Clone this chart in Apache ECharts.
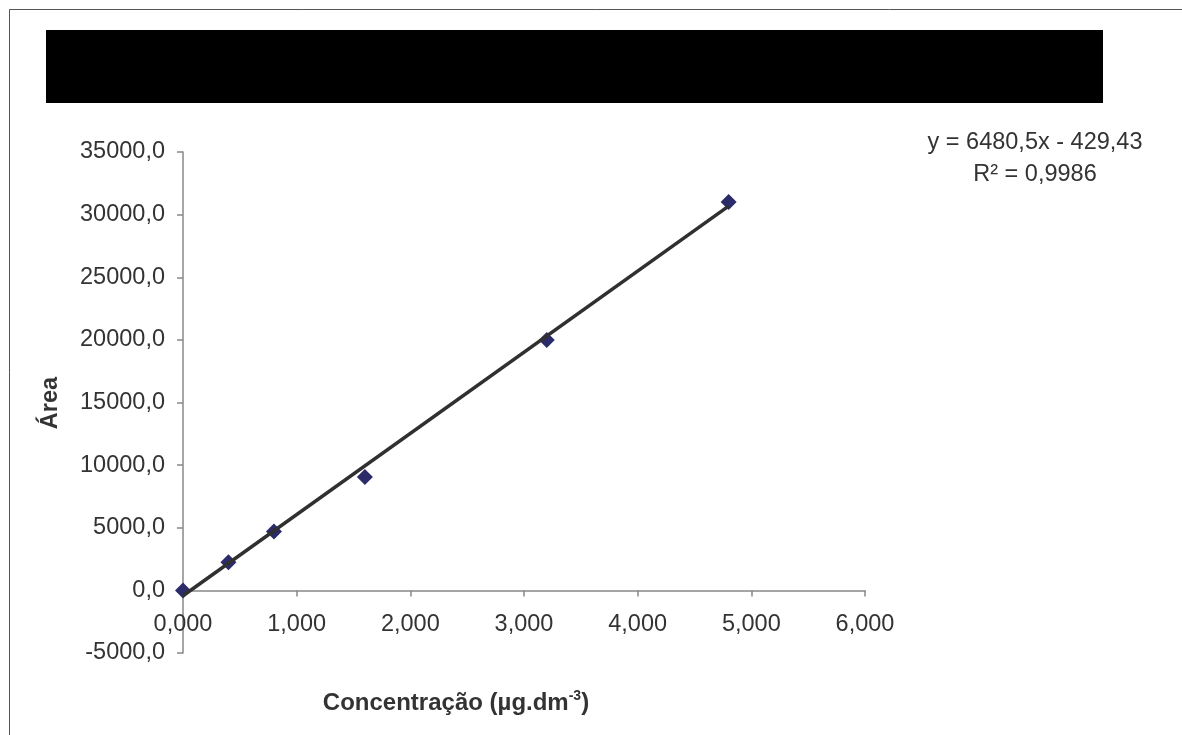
<!DOCTYPE html>
<html>
<head>
<meta charset="utf-8">
<script src="https://cdn.jsdelivr.net/npm/echarts@6/dist/echarts.min.js"></script>
<style>
html,body{margin:0;padding:0;background:#fff;}
#chart{width:1182px;height:735px;}
</style>
</head>
<body>
<div id="chart"></div>
<script>
// Data
var concentrations = [0, 0.4, 0.8, 1.6, 3.2, 4.8];
var areas = [0, 2250, 4700, 9050, 20000, 31000];
var trendSlope = 6480.5;
var trendIntercept = -429.43;
var trendRange = [0, 4.8];
var equationText = 'y = 6480,5x - 429,43';
var r2Text = 'R² = 0,9986';
var xTitle = 'Concentração (µg.dm';
var xTitleSup = '-3';
var yTitle = 'Área';

var FONT = '"Liberation Sans", Arial, sans-serif';
var scatterData = concentrations.map(function (c, i) { return [c, areas[i]]; });
var trendData = trendRange.map(function (x) { return [x, trendSlope * x + trendIntercept]; });

var yMin = -5000, yMax = 35000;
var gridTop = 152, gridHeight = 501;
// place x axis at y = 0 (offset from grid bottom, negative = upward)
var xAxisOffset = -gridHeight * (0 - yMin) / (yMax - yMin);

var chart = echarts.init(document.getElementById('chart'), null, {renderer: 'canvas'});
chart.setOption({
  backgroundColor: '#ffffff',
  animation: false,
  grid: {left: 183, top: gridTop, width: 682, height: gridHeight, containLabel: false},
  xAxis: {
    type: 'value', min: 0, max: 6, interval: 1, position: 'bottom', offset: xAxisOffset,
    axisLine: {onZero: false, lineStyle: {color: '#888888', width: 1.5}},
    axisTick: {show: true, length: 6, lineStyle: {color: '#888888', width: 1.5}},
    splitLine: {show: false},
    axisLabel: {
      margin: 22, color: '#333333', fontSize: 23.5, fontFamily: FONT,
      formatter: function (v) { return v.toFixed(3).replace('.', ','); }
    }
  },
  yAxis: {
    type: 'value', min: yMin, max: yMax, interval: 5000,
    axisLine: {show: true, onZero: false, lineStyle: {color: '#888888', width: 1.5}},
    axisTick: {show: true, length: 6, lineStyle: {color: '#888888', width: 1.5}},
    splitLine: {show: false},
    axisLabel: {
      margin: 18, color: '#333333', fontSize: 23.5, fontFamily: FONT,
      formatter: function (v) { return v.toFixed(1).replace('.', ','); }
    }
  },
  series: [
    {
      type: 'scatter', data: scatterData, symbol: 'diamond', symbolSize: 16,
      itemStyle: {color: '#2b2b69', opacity: 1}, z: 2
    },
    {
      type: 'line', data: trendData, showSymbol: false, symbol: 'none',
      lineStyle: {color: '#303030', width: 3.5}, z: 3
    }
  ],
  graphic: [
    {type: 'rect', shape: {x: 9.5, y: 9.5, width: 1300, height: 900},
     style: {fill: null, stroke: '#555555', lineWidth: 1}, silent: true},
    {type: 'rect', shape: {x: 46, y: 30, width: 1057, height: 73},
     style: {fill: '#000000'}, silent: true},
    {type: 'text', x: 1035, y: 143,
     style: {text: equationText, fill: '#333333', font: '23.5px ' + FONT, textAlign: 'center', textVerticalAlign: 'middle'}},
    {type: 'text', x: 1035, y: 175,
     style: {text: r2Text, fill: '#333333', font: '23.5px ' + FONT, textAlign: 'center', textVerticalAlign: 'middle'}},
    {type: 'text', x: 51, y: 403, rotation: Math.PI / 2,
     style: {text: yTitle, fill: '#333333', font: 'bold 23.5px ' + FONT, textAlign: 'center', textVerticalAlign: 'middle'}},
    {type: 'text', x: 456, y: 703,
     style: {
       text: '{a|' + xTitle + '}{s|' + xTitleSup + '}{a|)}',
       textAlign: 'center', textVerticalAlign: 'middle',
       rich: {
         a: {fontSize: 24, fontWeight: 'bold', fontFamily: FONT, fill: '#333333', color: '#333333'},
         s: {fontSize: 14, fontWeight: 'bold', fontFamily: FONT, fill: '#333333', color: '#333333', verticalAlign: 'top', padding: [0, 0, 14, 0]}
       }
     }}
  ]
});
</script>
</body>
</html>
